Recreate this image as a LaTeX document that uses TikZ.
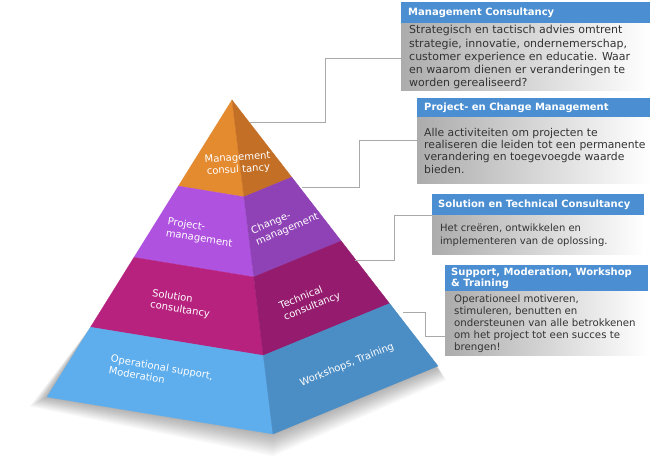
\documentclass[tikz,border=0pt]{standalone}
\usepackage{fontspec}
\setmainfont{DejaVu Sans}
\usetikzlibrary{calc}
\definecolor{orL}{HTML}{E48A2F}
\definecolor{orR}{HTML}{C46F26}
\definecolor{puL}{HTML}{B052E0}
\definecolor{puR}{HTML}{8F42B6}
\definecolor{maL}{HTML}{B7227F}
\definecolor{maR}{HTML}{941B6D}
\definecolor{blL}{HTML}{5EADEC}
\definecolor{blR}{HTML}{4B8DC5}
\definecolor{hdr}{HTML}{4B8FD2}
\definecolor{bodyL}{HTML}{ACACAC}
\definecolor{txt}{HTML}{333333}
\definecolor{conncol}{HTML}{A9A9A9}
\begin{document}
\begin{tikzpicture}[x=1pt,y=-1pt,
  lbl/.style={text=white, font=\fontsize{10}{12}\selectfont, align=left, inner sep=0pt},
  hdrbox/.style={fill=hdr, anchor=north west, inner sep=0pt},
  hdrtext/.style={text=white, font=\bfseries\fontsize{10}{10.6}\selectfont, align=left, anchor=west, inner sep=0pt},
  bodybox/.style={left color=bodyL, right color=white, anchor=north west, inner sep=0pt},
  bodytext/.style={text=txt, align=left, anchor=west, inner sep=0pt},
  link/.style={draw=conncol, line width=0.8pt},
  face/.style={line width=0.3pt}]
\useasboundingbox (0,0) rectangle (650,455);
\fill[white] (0,0) rectangle (650,455);

% pyramid corners
\coordinate (A) at (232,100);
\coordinate (L) at (47,397);
\coordinate (M) at (273,434);
\coordinate (R) at (438,366);
\foreach \i/\f in {1/0.29,2/0.53,3/0.765}{
  \coordinate (L\i) at ($(A)!\f!(L)$);
  \coordinate (M\i) at ($(A)!\f!(M)$);
  \coordinate (R\i) at ($(A)!\f!(R)$);
}

% shadow
\foreach \k in {1,...,16}
  \fill[black, opacity=0.018] ($(L)+(-1.1*\k,0.6*\k)$) -- ($(M)+(0,1.4*\k)$) -- ($(R)+(0.5*\k,0.9*\k)$) -- (R3) -- (L3) -- cycle;

% faces
\filldraw[face, fill=orL, draw=orL] (A) -- (L1) -- (M1) -- cycle;
\filldraw[face, fill=orR, draw=orR] (A) -- (M1) -- (R1) -- cycle;
\filldraw[face, fill=puL, draw=puL] (L1) -- (L2) -- (M2) -- (M1) -- cycle;
\filldraw[face, fill=puR, draw=puR] (M1) -- (M2) -- (R2) -- (R1) -- cycle;
\filldraw[face, fill=maL, draw=maL] (L2) -- (L3) -- (M3) -- (M2) -- cycle;
\filldraw[face, fill=maR, draw=maR] (M2) -- (M3) -- (R3) -- (R2) -- cycle;
\filldraw[face, fill=blL, draw=blL] (L3) -- (L) -- (M) -- (M3) -- cycle;
\filldraw[face, fill=blR, draw=blR] (M3) -- (M) -- (R) -- (R3) -- cycle;

% pyramid labels
\node[lbl, align=center, rotate=4] (t1) at (238,164) {Management\\consul tancy};
\node[lbl, rotate=-9] (t2l) at (200,233) {Project-\\management};
\node[lbl, rotate=23] (t2r) at (285,224) {Change-\\management};
\node[lbl, rotate=-9] (t3l) at (181,304) {Solution\\consultancy};
\node[lbl, rotate=22] (t3r) at (310,301) {Technical\\consultancy};
\node[lbl, rotate=-10] (t4l) at (161,373) {Operational support,\\Moderation};
\node[lbl, rotate=22] (t4r) at (347,365) {Workshops, Training};

% box 1
\node[hdrbox, minimum width=249pt, minimum height=21pt] (h1) at (401,2) {};
\node[hdrtext] (h1t) at ($(h1.west)+(7,0)$) {Management Consultancy};
\node[bodybox, minimum width=249pt, minimum height=67pt] (b1) at (h1.south west) {};
\node[bodytext, font=\fontsize{11}{13.1}\selectfont] (b1t) at ($(b1.west)+(8,0)$) {Strategisch en tactisch advies omtrent\\strategie, innovatie, ondernemerschap,\\customer experience en educatie. Waar\\en waarom dienen er veranderingen te\\worden gerealiseerd?};

% box 2
\node[hdrbox, minimum width=233pt, minimum height=19pt] (h2) at (417,98) {};
\node[hdrtext] (h2t) at ($(h2.west)+(7,0)$) {Project- en Change Management};
\node[bodybox, minimum width=233pt, minimum height=66pt] (b2) at (h2.south west) {};
\node[bodytext, font=\fontsize{10.8}{12.4}\selectfont] (b2t) at ($(b2.west)+(7,0)$) {Alle activiteiten om projecten te\\realiseren die leiden tot een permanente\\verandering en toegevoegde waarde\\bieden.};

% box 3
\node[hdrbox, minimum width=212pt, minimum height=21pt] (h3) at (432,194) {};
\node[hdrtext] (h3t) at ($(h3.west)+(6,0)$) {Solution en Technical Consultancy};
\node[bodybox, minimum width=212pt, minimum height=39pt] (b3) at (h3.south west) {};
\node[bodytext, font=\fontsize{10}{12.3}\selectfont] (b3t) at ($(b3.west)+(8,0)$) {Het creëren, ontwikkelen en\\implementeren van de oplossing.};

% box 4
\node[hdrbox, minimum width=203pt, minimum height=26pt] (h4) at (445,265) {};
\node[hdrtext] (h4t) at ($(h4.west)+(6,0)$) {Support, Moderation, Workshop\\\& Training};
\node[bodybox, minimum width=203pt, minimum height=64pt] (b4) at (h4.south west) {};
\node[bodytext, font=\fontsize{10.2}{12.1}\selectfont] (b4t) at ($(b4.west)+(9,0)$) {Operationeel motiveren,\\stimuleren, benutten en\\ondersteunen van alle betrokkenen\\om het project tot een succes te\\brengen!};

% connectors
\coordinate (c1) at (250,122);
\coordinate (c2) at (302,187);
\coordinate (c3) at (355,260);
\coordinate (c4) at (403,312);
\coordinate (e1) at ($(b1.north west)+(0,35)$);
\coordinate (e2) at ($(b2.north west)+(0,23)$);
\coordinate (e3) at (h3.south west);
\coordinate (e4) at ($(b4.north west)+(0,45)$);
\draw[link] (c1) -- ++(75,0) |- (e1);
\draw[link] (c2) -- ++(57,0) |- (e2);
\draw[link] (c3) -- ++(39,0) |- (e3);
\draw[link] (c4) -- ++(22,0) |- (e4);
\end{tikzpicture}
\end{document}
